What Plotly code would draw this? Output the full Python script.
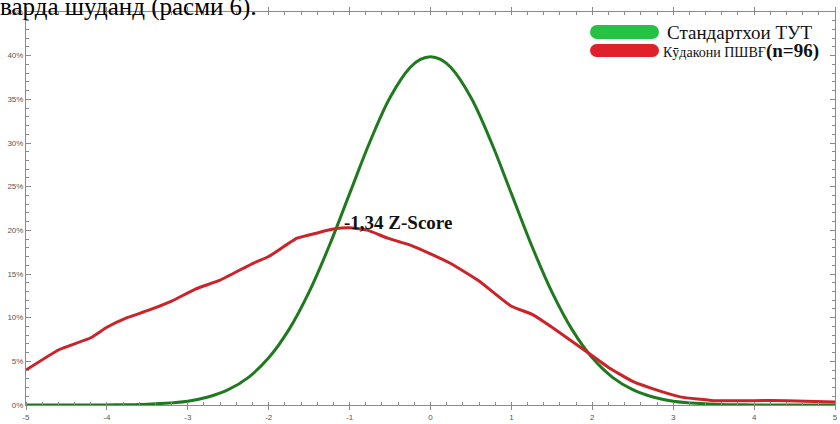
import plotly.graph_objects as go

# Standard WHO curve (percent)
std_x = [-5, -4.5, -4, -3.5, -3, -2.75, -2.5, -2.25, -2, -1.75, -1.5, -1.25, -1, -0.75, -0.5, -0.25, -0.125,
         0, 0.125, 0.25, 0.5, 0.75, 1, 1.25, 1.5, 1.75, 2, 2.25, 2.5, 2.75, 3, 3.5, 4, 4.5, 5]
std_y = [0, 0, 0.01, 0.09, 0.44, 0.91, 1.75, 3.17, 5.4, 8.63, 12.95, 18.26, 24.2, 30.11, 35.21, 38.67, 39.58,
         39.89, 39.58, 38.67, 35.21, 30.11, 24.2, 18.26, 12.95, 8.63, 5.4, 3.17, 1.75, 0.91, 0.44, 0.09, 0.01, 0, 0]

# Children group (n=96)
kid_x = [-5, -4.6, -4.2, -4.0, -3.75, -3.5, -3.2, -2.9, -2.6, -2.2, -2.0, -1.65, -1.4, -1.17, -1.0,
         -0.77, -0.53, -0.25, 0, 0.25, 0.6, 1.0, 1.25, 1.55, 1.9, 2.2, 2.5, 2.8, 3.1, 3.5, 4.0, 4.4, 5.0]
kid_y = [4.0, 6.3, 7.7, 8.9, 10.0, 10.8, 11.9, 13.3, 14.3, 16.2, 17.0, 19.1, 19.7, 20.2, 20.3,
         20.0, 19.1, 18.3, 17.3, 16.2, 14.2, 11.3, 10.4, 8.6, 6.3, 4.3, 2.7, 1.7, 0.9, 0.5, 0.5, 0.5, 0.35]

x_ticks = [-5, -4, -3, -2, -1, 0, 1, 2, 3, 4, 5]
y_ticks = [0, 5, 10, 15, 20, 25, 30, 35, 40, 45]
y_tick_labels = [f"{v}%" for v in y_ticks]

legend_labels = ["Стандартхои ТУТ", "Кӯдакони ПШВҒ", "(n=96)"]
annot_text = "-1,34 Z-Score"
top_text = "варда шуданд (расми 6)."

fig = go.Figure()
fig.add_trace(go.Scatter(x=std_x, y=std_y, mode="lines", line=dict(color="#1f7a1f", width=3, shape="spline", smoothing=1),
                         showlegend=False, hoverinfo="skip"))
fig.add_trace(go.Scatter(x=kid_x, y=kid_y, mode="lines", line=dict(color="#cc2229", width=3, shape="spline", smoothing=0.35),
                         showlegend=False, hoverinfo="skip"))

axis_common = dict(showgrid=False, zeroline=False, showline=True, linecolor="#8a8a8a", linewidth=1,
                   mirror="allticks", tickcolor="#8a8a8a", tickfont=dict(family="Arial", size=8, color="#555"))

fig.update_xaxes(range=[-5, 5], tickmode="array", tickvals=x_ticks, ticktext=[str(v) for v in x_ticks],
                 ticks="outside", ticklen=4,
                 minor=dict(dtick=0.2, ticks="inside", ticklen=3, tickcolor="#8a8a8a"), **axis_common)
fig.update_yaxes(range=[0, 45], tickmode="array", tickvals=y_ticks, ticktext=y_tick_labels, ticks="inside", ticklen=5,
                 minor=dict(dtick=1, ticks="inside", ticklen=3, tickcolor="#8a8a8a"), **axis_common)

# legend swatches (rounded bars) in pixel coordinates relative to top-right corner
shapes = []
def bar(color, ytop, ybot):
    x0, x1 = -245, -176
    r = (ytop - ybot) / 2
    yc = (ytop + ybot) / 2
    shapes.append(dict(type="rect", xref="paper", yref="paper", xsizemode="pixel", ysizemode="pixel",
                       xanchor=1, yanchor=1, x0=x0 + r, x1=x1 - r, y0=ybot, y1=ytop,
                       fillcolor=color, line=dict(width=0)))
    for cx in (x0 + r, x1 - r):
        shapes.append(dict(type="circle", xref="paper", yref="paper", xsizemode="pixel", ysizemode="pixel",
                           xanchor=1, yanchor=1, x0=cx - r, x1=cx + r, y0=yc - r, y1=yc + r,
                           fillcolor=color, line=dict(width=0)))

bar("#26c244", -13, -27)
bar("#e0212b", -32, -45)

annotations = [
    dict(xref="paper", yref="paper", x=1, y=1, xanchor="left", yanchor="middle", xshift=-170, yshift=-20,
         text=legend_labels[0], showarrow=False, font=dict(family="Liberation Serif", size=19, color="#111")),
    dict(xref="paper", yref="paper", x=1, y=1, xanchor="left", yanchor="middle", xshift=-174, yshift=-39,
         text="<span style='font-size:14px'>" + legend_labels[1] + "</span><b>" + legend_labels[2] + "</b>",
         showarrow=False, font=dict(family="Liberation Serif", size=19, color="#111")),
    dict(xref="x", yref="y", x=-1.09, y=20.9, xanchor="left", yanchor="middle", text="<b>" + annot_text + "</b>",
         showarrow=False, font=dict(family="Liberation Serif", size=19, color="#111")),
    dict(xref="paper", yref="paper", x=0, y=1, xanchor="left", yanchor="bottom", xshift=-28, yshift=-11,
         text=top_text, showarrow=False, font=dict(family="Liberation Serif", size=25, color="#000")),
]

fig.update_layout(width=840, height=424, margin=dict(l=26, r=2, t=12, b=13),
                  paper_bgcolor="white", plot_bgcolor="white", shapes=shapes, annotations=annotations)

fig.write_html("out.html")
